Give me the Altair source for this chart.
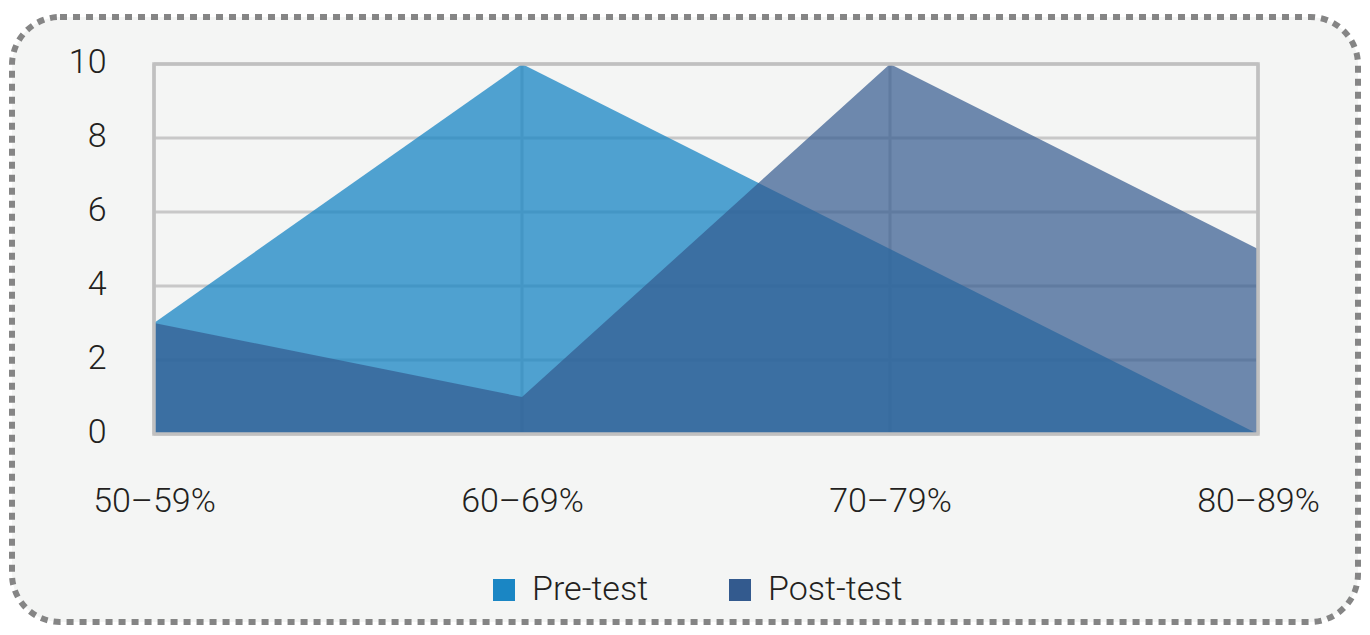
import altair as alt
import pandas as pd

categories = ["50–59%", "60–69%", "70–79%", "80–89%"]
pre_test = [3, 10, 5, 0]
post_test = [3, 1, 10, 5]
series_names = ["Pre-test", "Post-test"]
series_colors = ["#1a86c4", "#335a8e"]
series_opacity = [0.76, 0.70]
y_ticks = [0, 2, 4, 6, 8, 10]

FONT = "Roboto"
TXT = "#231f20"
W, H = 1104, 370

rows = []
for name, vals in zip(series_names, [pre_test, post_test]):
    for c, v in zip(categories, vals):
        rows.append({"cat": c, "count": v, "series": name})
df = pd.DataFrame(rows)
grid_y = pd.DataFrame({"count": y_ticks})
grid_x = pd.DataFrame({"cat": categories})
one = pd.DataFrame({"k": [0]})

xscale = alt.Scale(type="point", domain=categories, padding=0)
yscale = alt.Scale(domain=[0, 10], nice=False, zero=True)

xaxis = alt.Axis(title=None, labelAngle=0, domain=False, ticks=False,
                 grid=False, labelPadding=50, labelFontSize=34,
                 labelFont=FONT, labelFontWeight=300, labelColor=TXT, zindex=2)
yaxis = alt.Axis(title=None, values=y_ticks, domain=False, ticks=False,
                 grid=False, labelPadding=48, labelFontSize=34,
                 labelFont=FONT, labelFontWeight=300, labelColor=TXT,
                 labelOffset=-2, zindex=2)

xenc = alt.X("cat:N", scale=xscale, sort=categories, axis=xaxis)
yenc = alt.Y("count:Q", scale=yscale, stack=None, axis=yaxis)

card = alt.Chart(one).mark_rect(
    cornerRadius=48, fill="#f4f5f4", stroke="#858585", strokeWidth=6,
    strokeDash=[7, 6], clip=False
).encode(
    x=alt.value(-142), x2=alt.value(1204), y=alt.value(-47), y2=alt.value(558)
)

hgrid = alt.Chart(grid_y).mark_rule(color="#c8c8c8", strokeWidth=3).encode(y=yenc)
vgrid = alt.Chart(grid_x).mark_rule(color="#c8c8c8", strokeWidth=3).encode(x=xenc)

cenc = alt.Color("series:N", sort=series_names,
                 scale=alt.Scale(domain=series_names, range=series_colors),
                 legend=alt.Legend(title=None, orient="none", direction="horizontal",
                                   legendX=333, legendY=509, symbolType="square",
                                   symbolSize=484, symbolOpacity=1,
                                   symbolStrokeWidth=0, labelFontSize=34,
                                   labelFont=FONT, labelFontWeight=300,
                                   labelColor=TXT, labelOffset=11,
                                   columnPadding=74, padding=0, zindex=2))

area_layers = []
for name, op in zip(series_names, series_opacity):
    area_layers.append(
        alt.Chart(df).transform_filter(alt.datum.series == name)
        .mark_area(interpolate="linear", opacity=op)
        .encode(x=xenc, y=yenc, color=cenc)
    )

frame = alt.Chart(one).mark_rect(
    fillOpacity=0, stroke="#c0c0c0", strokeWidth=3.5, clip=False
).encode(
    x=alt.value(0), x2=alt.value(W), y=alt.value(0), y2=alt.value(H)
)

chart = alt.layer(card, hgrid, vgrid, *area_layers, frame).properties(
    width=W, height=H,
    autosize=alt.AutoSizeParams(type="none"),
    padding={"left": 146, "top": 56, "right": 104, "bottom": 193},
    background="white",
).configure_view(stroke=None)

chart.save("out.html", embed_options={"renderer": "svg", "actions": False})
